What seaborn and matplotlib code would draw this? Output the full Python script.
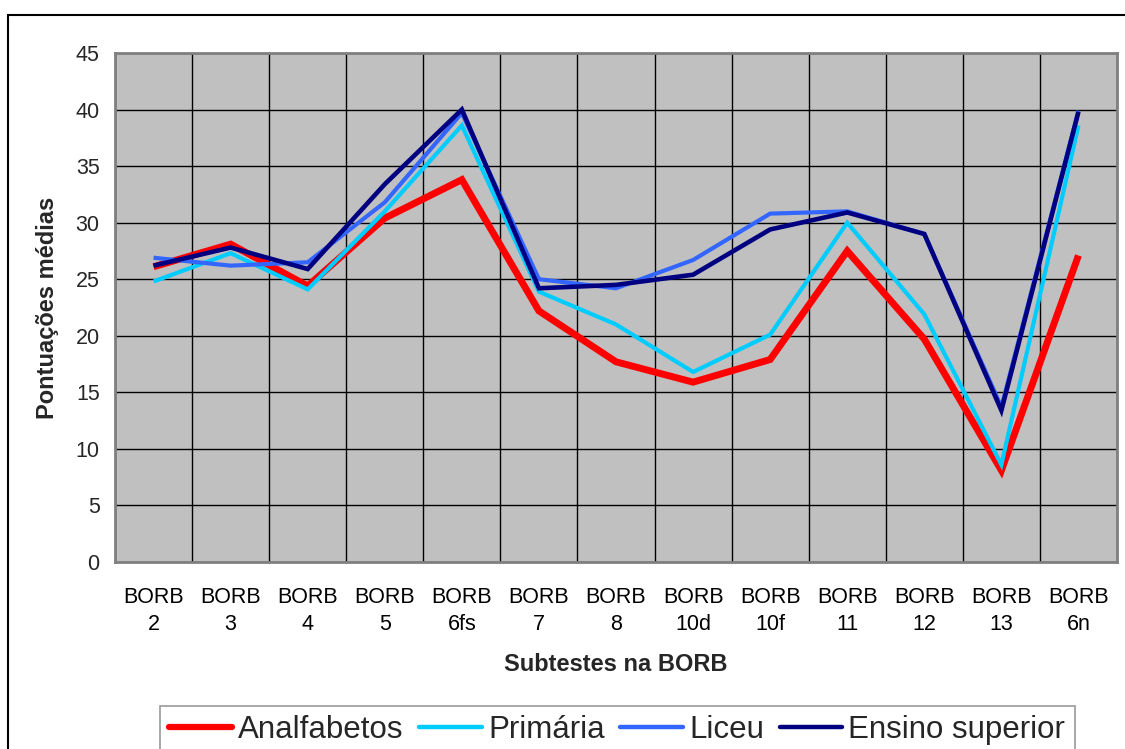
import matplotlib
matplotlib.use("Agg")
import matplotlib.pyplot as plt
from matplotlib.patches import Rectangle
import numpy as np
import pandas as pd
import seaborn as sns

# Subtests of the BORB battery (x axis)
subtests = ["BORB\n2", "BORB\n3", "BORB\n4", "BORB\n5", "BORB\n6fs", "BORB\n7",
            "BORB\n8", "BORB\n10d", "BORB\n10f", "BORB\n11", "BORB\n12",
            "BORB\n13", "BORB\n6n"]

# Mean scores per education group
analfabetos = [26.1, 28.1, 24.4, 30.4, 33.8, 22.2, 17.7, 15.9, 17.9, 27.5, 19.7, 8.1, 27.1]
primaria = [24.8, 27.3, 24.1, 31.0, 38.6, 23.9, 21.0, 16.8, 20.1, 30.0, 21.9, 8.6, 38.6]
liceu = [26.9, 26.2, 26.5, 31.8, 39.7, 25.0, 24.2, 26.7, 30.8, 31.0, 29.0, 13.7, 39.9]
ensino_superior = [26.2, 27.8, 25.9, 33.4, 40.0, 24.2, 24.5, 25.4, 29.4, 30.9, 29.0, 13.4, 39.8]

groups = ["Analfabetos", "Primária", "Liceu", "Ensino superior"]
colors = ["#FF0000", "#00CCFF", "#3366FF", "#000080"]
widths = [5.0, 3.0, 3.0, 3.3]
legend_widths = [4.5, 3.2, 3.2, 3.2]

df = pd.DataFrame({
    "pos": np.tile(np.arange(len(subtests)), len(groups)),
    "score": analfabetos + primaria + liceu + ensino_superior,
    "group": np.repeat(groups, len(subtests)),
})

sns.set_theme(style="white")
plt.rcParams["font.family"] = ["Liberation Sans", "DejaVu Sans"]

fig = plt.figure(figsize=(11.25, 7.49), dpi=100)
ax = fig.add_axes([115 / 1125, 1 - 562 / 749, 1002 / 1125, 509 / 749])
ax.set_facecolor("#C0C0C0")

for g, c, w in zip(groups, colors, widths):
    sns.lineplot(data=df[df["group"] == g], x="pos", y="score", color=c,
                 linewidth=w, ax=ax, label=g, legend=False,
                 solid_joinstyle="miter", solid_capstyle="butt")

ax.set_xlim(-0.5, len(subtests) - 0.5)
ax.set_ylim(0, 45)
ax.set_yticks(np.arange(0, 46, 5))
ax.set_xticks(np.arange(len(subtests)))
ax.set_xticklabels(subtests, linespacing=1.35)
ax.set_xticks(np.arange(-0.5, len(subtests), 1), minor=True)

ax.grid(False)
ax.grid(True, which="minor", axis="x", color="black", linewidth=1.0)
ax.grid(True, which="major", axis="y", color="black", linewidth=1.0)
ax.set_axisbelow(True)

ax.tick_params(axis="x", which="major", length=0, pad=18, labelsize=15.5, colors="black")
ax.tick_params(axis="x", which="minor", length=6, width=1, color="#404040", direction="out")
ax.tick_params(axis="y", which="major", length=6, width=1, color="#404040",
               direction="out", pad=5, labelsize=15.5)
ax.tick_params(axis="y", which="minor", length=0)

for s in ax.spines.values():
    s.set_color("#808080")
    s.set_linewidth(2)
    s.set_visible(True)

ax.set_xlabel("Subtestes na BORB", fontsize=17, fontweight="bold", labelpad=13)
ax.set_ylabel("Pontuações médias", fontsize=17, fontweight="bold", labelpad=12)

handles, labels = ax.get_legend_handles_labels()
leg = fig.legend(handles, labels, loc="upper left",
                 bbox_to_anchor=(160 / 1125, 1 - 706 / 749), borderaxespad=0,
                 ncol=4, fontsize=22.5, frameon=True, fancybox=False,
                 handlelength=2.0, handletextpad=0.2, columnspacing=0.5,
                 borderpad=0.3)
leg.get_frame().set_edgecolor("#808080")
leg.get_frame().set_linewidth(1.2)
for line, lw in zip(leg.get_lines(), legend_widths):
    line.set_linewidth(lw)
    line.set_solid_capstyle("round")

# chart area frame
fig.patches.append(Rectangle((8 / 1125, -0.2), 1.2, 1.2 - 15 / 749,
                             transform=fig.transFigure, fill=False,
                             edgecolor="black", linewidth=1.5))

fig.savefig("out.png", dpi=100)
